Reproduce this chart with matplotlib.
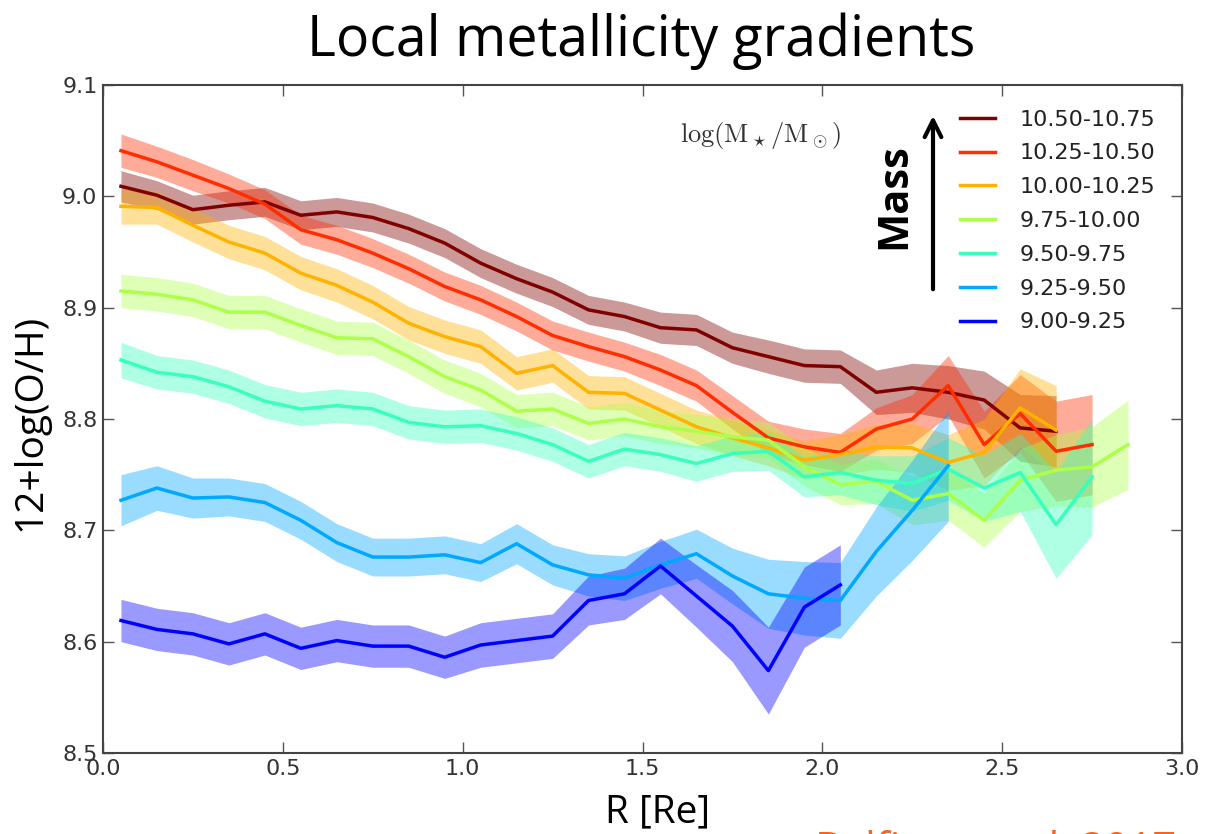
import numpy as np
import matplotlib
matplotlib.use('Agg')
from matplotlib import pyplot as plt

plt.rcParams['mathtext.fontset'] = 'cm'

# radial bins (in units of Re) and metallicity profiles per stellar-mass bin
R = [0.05, 0.15, 0.25, 0.35, 0.45, 0.55, 0.65, 0.75, 0.85, 0.95,
     1.05, 1.15, 1.25, 1.35, 1.45, 1.55, 1.65, 1.75, 1.85, 1.95,
     2.05, 2.15, 2.25, 2.35, 2.45, 2.55, 2.65, 2.75, 2.85]

labels = ['10.50-10.75', '10.25-10.50', '10.00-10.25', '9.75-10.00',
          '9.50-9.75', '9.25-9.50', '9.00-9.25']

oh_1050 = [9.009, 9.001, 8.988, 8.992, 8.995, 8.983, 8.986, 8.981, 8.971, 8.958,
           8.940, 8.926, 8.914, 8.898, 8.892, 8.882, 8.880, 8.864, 8.856, 8.848,
           8.847, 8.824, 8.828, 8.824, 8.817, 8.792, 8.789]
err_1050 = [0.014, 0.013, 0.013, 0.013, 0.013, 0.013, 0.013, 0.013, 0.013, 0.013,
            0.013, 0.013, 0.013, 0.013, 0.013, 0.014, 0.014, 0.014, 0.015, 0.015,
            0.015, 0.020, 0.022, 0.024, 0.026, 0.030, 0.032]

oh_1025 = [9.041, 9.031, 9.019, 9.007, 8.993, 8.970, 8.961, 8.949, 8.935, 8.919,
           8.907, 8.892, 8.875, 8.865, 8.856, 8.844, 8.830, 8.806, 8.783, 8.775,
           8.770, 8.791, 8.800, 8.830, 8.777, 8.805, 8.771, 8.777]
err_1025 = [0.015, 0.014, 0.014, 0.013, 0.013, 0.013, 0.013, 0.013, 0.013, 0.013,
            0.013, 0.013, 0.013, 0.013, 0.013, 0.014, 0.014, 0.015, 0.015, 0.016,
            0.017, 0.019, 0.022, 0.027, 0.030, 0.035, 0.045, 0.045]

oh_1000 = [8.991, 8.990, 8.974, 8.959, 8.949, 8.931, 8.920, 8.905, 8.886, 8.874,
           8.865, 8.841, 8.848, 8.824, 8.823, 8.808, 8.793, 8.783, 8.774, 8.763,
           8.768, 8.775, 8.774, 8.761, 8.770, 8.810, 8.790]
err_1000 = [0.016, 0.015, 0.015, 0.015, 0.015, 0.015, 0.015, 0.015, 0.015, 0.015,
            0.015, 0.015, 0.015, 0.015, 0.015, 0.015, 0.015, 0.016, 0.016, 0.017,
            0.018, 0.020, 0.022, 0.025, 0.030, 0.035, 0.040]

oh_975 = [8.915, 8.912, 8.907, 8.896, 8.896, 8.884, 8.873, 8.872, 8.856, 8.838,
          8.826, 8.807, 8.809, 8.796, 8.800, 8.793, 8.789, 8.784, 8.781, 8.757,
          8.741, 8.744, 8.727, 8.733, 8.709, 8.745, 8.754, 8.757, 8.777]
err_975 = [0.015, 0.015, 0.015, 0.015, 0.015, 0.015, 0.015, 0.015, 0.015, 0.015,
           0.015, 0.015, 0.015, 0.015, 0.015, 0.015, 0.015, 0.016, 0.016, 0.017,
           0.018, 0.020, 0.022, 0.024, 0.024, 0.028, 0.032, 0.036, 0.040]

oh_950 = [8.853, 8.842, 8.838, 8.829, 8.816, 8.809, 8.812, 8.809, 8.797, 8.793,
          8.794, 8.787, 8.777, 8.762, 8.773, 8.768, 8.760, 8.769, 8.771, 8.748,
          8.752, 8.745, 8.742, 8.755, 8.738, 8.752, 8.705, 8.748]
err_950 = [0.016, 0.015, 0.015, 0.015, 0.015, 0.015, 0.015, 0.015, 0.015, 0.015,
           0.015, 0.015, 0.015, 0.015, 0.015, 0.015, 0.016, 0.016, 0.017, 0.018,
           0.020, 0.022, 0.025, 0.028, 0.030, 0.035, 0.048, 0.052]

oh_925 = [8.727, 8.738, 8.729, 8.730, 8.725, 8.709, 8.689, 8.676, 8.676, 8.678,
          8.671, 8.688, 8.669, 8.660, 8.657, 8.669, 8.679, 8.659, 8.643, 8.639,
          8.637, 8.681, 8.718, 8.758]
err_925 = [0.023, 0.020, 0.018, 0.017, 0.017, 0.017, 0.017, 0.017, 0.017, 0.017,
           0.017, 0.018, 0.018, 0.019, 0.020, 0.021, 0.022, 0.025, 0.031, 0.033,
           0.034, 0.040, 0.045, 0.050]

oh_900 = [8.619, 8.611, 8.607, 8.598, 8.607, 8.594, 8.601, 8.596, 8.596, 8.586,
          8.597, 8.601, 8.605, 8.637, 8.643, 8.668, 8.641, 8.614, 8.574, 8.631,
          8.651]
err_900 = [0.019, 0.019, 0.019, 0.019, 0.019, 0.019, 0.019, 0.019, 0.019, 0.019,
           0.020, 0.020, 0.020, 0.022, 0.023, 0.025, 0.028, 0.032, 0.039, 0.036,
           0.036]

profiles = [(oh_1050, err_1050), (oh_1025, err_1025), (oh_1000, err_1000),
            (oh_975, err_975), (oh_950, err_950), (oh_925, err_925),
            (oh_900, err_900)]

# jet colours, high mass -> low mass
colors = plt.cm.jet([1.0, 0.86, 0.72, 0.56, 0.42, 0.29, 0.11])

fig = plt.figure(figsize=(12.05, 8.34), dpi=100)
ax = fig.add_axes([103/1205, 1-753/834, 1079/1205, 668/834])

for (oh, err), col, lab in zip(profiles, colors, labels):
    r = np.array(R[:len(oh)])
    oh = np.array(oh)
    err = np.array(err)
    ax.fill_between(r, oh - err, oh + err, color=col, alpha=0.4, lw=0)
    ax.plot(r, oh, color=col, lw=2.5, label=lab)

ax.set_xlim(0.0, 3.0)
ax.set_ylim(8.5, 9.1)
ax.set_xticks([0.0, 0.5, 1.0, 1.5, 2.0, 2.5, 3.0])
ax.set_yticks([8.5, 8.6, 8.7, 8.8, 8.9, 9.0, 9.1])
ax.tick_params(direction='in', length=8, width=1, top=True, right=True,
               labelsize=16, labelcolor='#333333', color='#555555', pad=4)
for sp in ax.spines.values():
    sp.set_color('#444444')
    sp.set_linewidth(1.5)

leg = ax.legend(loc='upper left', bbox_to_anchor=(0.794, 0.963), frameon=False,
                fontsize=16, handlelength=1.6, handletextpad=1.1,
                labelspacing=0.62, borderpad=0, borderaxespad=0)
for t in leg.get_texts():
    t.set_color('#222222')

ax.text(0.535, 0.925, r'$\log(\mathrm{M}_\star/\mathrm{M}_\odot)$', transform=ax.transAxes,
        fontsize=19, color='#333333', ha='left', va='center')

# "Mass" arrow
fig.text(895/1205, 1-196/834, 'Mass', rotation=90, fontsize=30, fontweight='bold',
         family='Open Sans', ha='center', va='center')
ax.annotate('', xy=(933/1205, 1-113/834), xytext=(933/1205, 1-292/834),
            xycoords='figure fraction', textcoords='figure fraction',
            arrowprops=dict(arrowstyle='->', lw=3, color='black', mutation_scale=30))

fig.text(641/1205, 1-41/834, 'Local metallicity gradients', fontsize=40,
         family='Open Sans', ha='center', va='center')
fig.text(30/1205, 1-422/834, '12+log(O/H)', rotation=90, fontsize=28,
         family='Open Sans', ha='center', va='center')
fig.text(658/1205, 1-812/834, 'R [Re]', fontsize=28,
         family='Open Sans', ha='center', va='center')
# reference line running off the bottom edge
fig.text(815/1205, 1-830/834, 'Belfiore et al. 2017', fontsize=30, color='#f26522',
         family='Open Sans', ha='left', va='top')

fig.savefig('out.png', dpi=100, facecolor='white')
